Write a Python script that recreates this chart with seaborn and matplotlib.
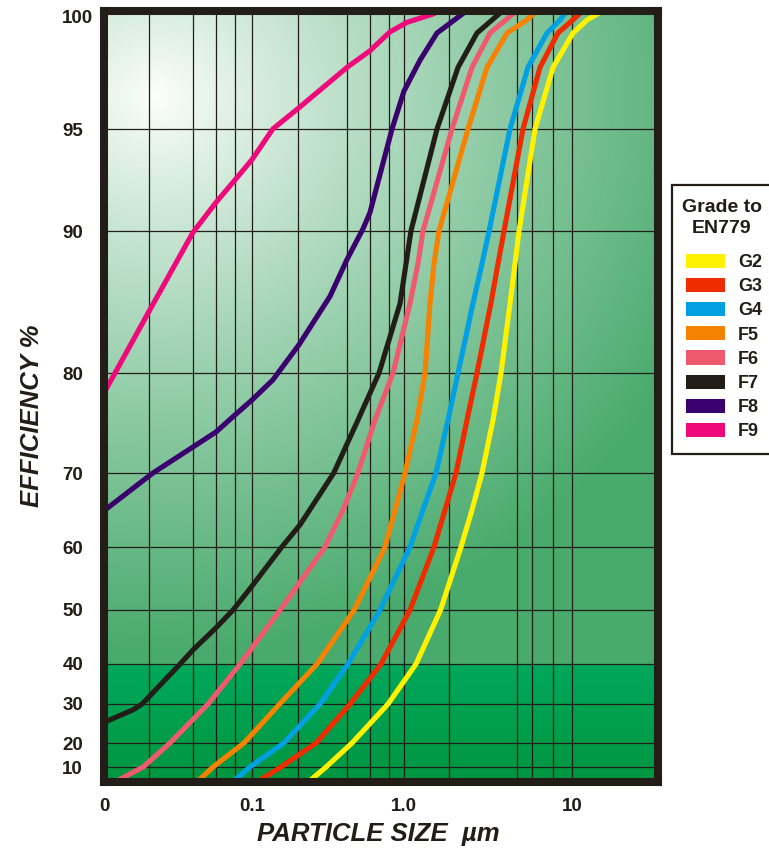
import numpy as np
import pandas as pd
import matplotlib
matplotlib.use("Agg")
import matplotlib.pyplot as plt
import matplotlib.transforms as mtransforms
from matplotlib.patches import Patch
import seaborn as sns

# grades, in legend order, and their curve colours
GRADES = ["G2", "G3", "G4", "F5", "F6", "F7", "F8", "F9"]
COLOURS = ["#fff200", "#ee2c00", "#00a0e3", "#f58200", "#f05a6e", "#221e17", "#3a006e", "#ee0a7a"]

# particle size (um) and efficiency (%)
G2_SIZE = [0.235, 0.307, 0.455, 0.785, 1.179, 1.65, 2.184, 2.539, 2.913, 3.388, 3.78, 4.275, 4.579, 4.837, 6.025, 7.71, 10.14, 12.3, 15.3]
G2_EFF = [0, 10, 20, 30, 40, 50, 60, 65, 70, 75.3, 80, 84.9, 87.7, 90, 95, 97.6, 99.05, 99.6, 100]

G3_SIZE = [0.108, 0.155, 0.264, 0.442, 0.706, 1.086, 1.509, 1.754, 2.04, 2.371, 2.72, 3.29, 3.628, 3.94, 5.109, 6.45, 8.25, 10.1, 11.62]
G3_EFF = [0, 10, 20, 30, 40, 50, 60, 65, 70, 75.3, 80, 84.9, 87.7, 90, 95, 97.6, 99.05, 99.6, 100]

G4_SIZE = [0.0738, 0.0969, 0.162, 0.28, 0.428, 0.695, 1.086, 1.297, 1.551, 1.828, 2.097, 2.575, 2.913, 3.21, 4.275, 5.47, 7.1, 8.49, 9.33]
G4_EFF = [0, 10, 20, 30, 40, 50, 60, 65, 70, 75.3, 80, 84.9, 87.7, 90, 95, 97.6, 99.05, 99.6, 100]

F5_SIZE = [0.0425, 0.0545, 0.0883, 0.152, 0.268, 0.47, 0.75, 0.873, 1.014, 1.195, 1.334, 1.428, 1.509, 1.616, 2.404, 3.119, 4.102, 5.39, 6.19]
F5_EFF = [0, 10, 20, 30, 40, 50, 60, 65, 70, 75.3, 80, 84.9, 87.7, 90, 95, 97.6, 99.05, 99.6, 100]

F6_SIZE = [0.0118, 0.0184, 0.0279, 0.0505, 0.0832, 0.153, 0.302, 0.397, 0.498, 0.644, 0.847, 1.086, 1.211, 1.297, 1.931, 2.539, 3.25, 4.706]
F6_EFF = [0, 10, 20, 30, 40, 50, 60, 65, 70, 75.3, 80, 84.9, 87.7, 90, 95, 97.6, 99.05, 100]

F7_SIZE = [0.01, 0.0157, 0.0181, 0.0327, 0.0399, 0.0571, 0.0745, 0.1, 0.157, 0.207, 0.345, 0.498, 0.685, 0.942, 1.028, 1.1, 1.572, 2.097, 2.72, 3.884]
F7_EFF = [25.3, 28.5, 30.0, 40.0, 42.6, 46.7, 50.0, 53.8, 60.0, 63.0, 70.0, 75.3, 80.0, 84.9, 87.7, 90.0, 95.0, 97.6, 99.05, 100]

F8_SIZE = [0.01, 0.0214, 0.0399, 0.0571, 0.0767, 0.1, 0.137, 0.204, 0.326, 0.422, 0.537, 0.597, 0.834, 1.0, 1.245, 1.572, 2.371]
F8_EFF = [64.9, 70.0, 72.6, 74.1, 75.8, 77.3, 79.3, 82.0, 85.4, 88.0, 90.1, 90.9, 95.0, 96.6, 97.9, 99.05, 100]

F9_SIZE = [0.01, 0.0198, 0.0399, 0.0571, 0.0767, 0.1, 0.137, 0.204, 0.422, 0.597, 0.809, 1.042, 1.488, 1.638]
F9_EFF = [78.0, 84.2, 89.9, 91.4, 92.5, 93.5, 95.0, 95.9, 97.6, 98.3, 99.1, 99.5, 99.85, 100]

SIZES = [G2_SIZE, G3_SIZE, G4_SIZE, F5_SIZE, F6_SIZE, F7_SIZE, F8_SIZE, F9_SIZE]
EFFS = [G2_EFF, G3_EFF, G4_EFF, F5_EFF, F6_EFF, F7_EFF, F8_EFF, F9_EFF]

# axis ticks and labels
X_TICKS = [0.01, 0.1, 1, 10]
X_TICK_LABELS = ["0", "0.1", "1.0", "10"]
X_GRID = [0.02, 0.04, 0.057, 0.077, 0.2, 0.42, 0.6, 0.8, 1.85, 4.7, 5.8, 7.7]
Y_TICKS = [10, 20, 30, 40, 50, 60, 70, 80, 90, 95, 100]

# the chart's axes are hand drawn: log decades of unequal width and a
# stretched efficiency axis, so both scales interpolate between anchors
X_DEC = [-2, -1, 0, 1, 2]
X_DEC_PX = [0, 148, 300, 468, 636]
Y_ANCH = [0, 10, 20, 30, 40, 50, 60, 70, 80, 90, 95, 100]
Y_ANCH_PX = [0, 15, 39, 78, 118, 172, 235, 309, 409, 551, 653, 771.5]


def fwd_x(x):
    return np.interp(np.log10(np.clip(x, 1e-9, None)), X_DEC, X_DEC_PX)


def inv_x(u):
    return 10 ** np.interp(u, X_DEC_PX, X_DEC)


def fwd_y(y):
    return np.interp(y, Y_ANCH, Y_ANCH_PX)


def inv_y(u):
    return np.interp(u, Y_ANCH_PX, Y_ANCH)


rows = []
for grade, sizes, effs in zip(GRADES, SIZES, EFFS):
    for s, e in zip(sizes, effs):
        rows.append((grade, s, e))
df = pd.DataFrame(rows, columns=["grade", "size", "eff"])

plt.rcParams["font.family"] = ["Liberation Sans", "DejaVu Sans"]
ink = "#221e17"

W, H = 769, 848
fig = plt.figure(figsize=(W / 100, H / 100), dpi=100)
pos = [104 / W, (H - 782) / H, 554 / W, 771.5 / H]

# background gradient: pale highlight top left, bright green band at the bottom
bg = fig.add_axes(pos, zorder=0)
yy, xx = np.mgrid[0:772, 0:554] + 0.5
px = xx + 104
py = yy + 10.5
d = np.sqrt(((px - 157) / 600) ** 2 + ((py - 97) / 560) ** 2)
t = (np.clip(d, 0, 1) ** 0.85)[..., None]
upper = (1 - t) * np.array([1.0, 1.0, 1.0]) + t * np.array([72, 170, 108]) / 255
s = np.clip((py - 664) / (782 - 664), 0, 1)[..., None]
lower = (1 - s) * np.array([0, 168, 92]) / 255 + s * np.array([0, 150, 64]) / 255
img = np.where((py > 664)[..., None], lower, upper)
bg.imshow(img, aspect="auto", extent=(0, 1, 0, 1), interpolation="bilinear")
bg.set_axis_off()

ax = fig.add_axes(pos, zorder=1)
ax.patch.set_alpha(0)
ax.set_xscale("function", functions=(fwd_x, inv_x))
ax.set_yscale("function", functions=(fwd_y, inv_y))
ax.set_xlim(0.01, inv_x(554))
ax.set_ylim(0, 100)

sns.lineplot(data=df, x="size", y="eff", hue="grade", hue_order=GRADES,
             palette=dict(zip(GRADES, COLOURS)), sort=False, estimator=None,
             linewidth=3.7, legend=False, ax=ax)
for line in ax.get_lines():
    line.set_solid_joinstyle("round")
ax.set_xlim(0.01, inv_x(554))
ax.set_ylim(0, 100)
ax.set_xlabel("")
ax.set_ylabel("")

ax.set_xticks(X_TICKS)
ax.set_xticks(X_GRID, minor=True)
ax.set_xticklabels(X_TICK_LABELS)
ax.set_yticks(Y_TICKS)
ax.set_yticklabels([str(v) for v in Y_TICKS], ha="left")
ax.grid(True, which="both", axis="x", color=ink, linewidth=0.9)
ax.grid(True, which="major", axis="y", color=ink, linewidth=0.9)
ax.tick_params(axis="both", which="both", length=0, labelsize=13.5, labelcolor=ink)
ax.tick_params(axis="y", pad=30)
ax.tick_params(axis="x", pad=11.5)
for lab in ax.get_xticklabels() + ax.get_yticklabels():
    lab.set_fontweight("bold")
top_lab = ax.get_yticklabels()[-1]
top_lab.set_transform(top_lab.get_transform() + mtransforms.ScaledTranslation(0, -0.06, fig.dpi_scale_trans))

for sp in ax.spines.values():
    sp.set_linewidth(5.8)
    sp.set_color(ink)
    sp.set_capstyle("projecting")

fig.text(32 / W, 1 - 416 / H, "EFFICIENCY %", rotation=90, ha="center", va="center",
         fontsize=18.5, fontweight="bold", fontstyle="italic", color=ink)
fig.text(378 / W, 1 - 841 / H, "PARTICLE SIZE  \u00b5m", ha="center", va="baseline",
         fontsize=18.5, fontweight="bold", fontstyle="italic", color=ink)

handles = [Patch(facecolor=c, edgecolor="none", label=g) for g, c in zip(GRADES, COLOURS)]
leg = fig.legend(handles=handles, title="Grade to\nEN779", loc="upper left",
                 bbox_to_anchor=(672 / W, 1 - 185 / H, 100 / W, 0), mode="expand",
                 prop={"weight": "bold", "size": 13},
                 title_fontproperties={"weight": "bold", "size": 14},
                 handlelength=2.17, handleheight=0.83, handletextpad=0.72,
                 labelspacing=0.38, borderpad=0.77, borderaxespad=0,
                 fancybox=False, framealpha=1, edgecolor=ink)
leg.get_frame().set_linewidth(1.6)
leg.get_title().set_multialignment("center")
leg.get_title().set_linespacing(1.28)
leg.get_title().set_color(ink)
leg._legend_box.sep = 12.3
for txt in leg.get_texts():
    txt.set_color(ink)

fig.savefig("out.png", dpi=100)
